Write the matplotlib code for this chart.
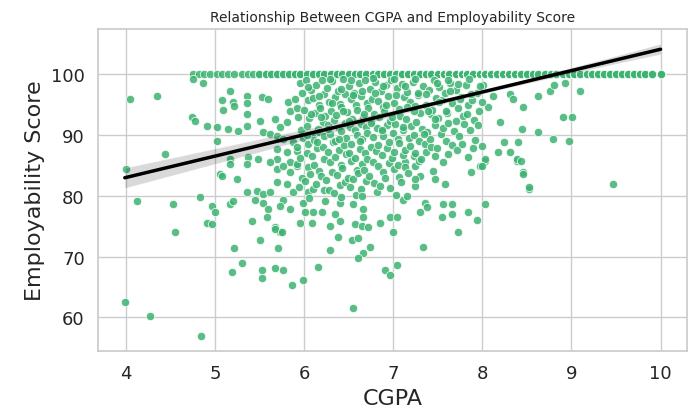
import matplotlib
matplotlib.use("Agg")
import matplotlib.pyplot as plt
import seaborn as sns
import numpy as np

# students capped at the maximum score of 100 (position, how many students overlap there)
top_cgpa = [4.75, 4.82, 4.88, 4.95, 5.02, 5.08, 5.15, 5.22, 5.3, 5.37, 5.43, 5.5, 5.57, 5.63,
            5.7, 5.76, 5.83, 5.9, 5.96, 6.03, 6.1, 6.17, 6.23, 6.3, 6.37, 6.43, 6.5, 6.57,
            6.63, 6.7, 6.77, 6.83, 6.9, 6.97, 7.03, 7.1, 7.17, 7.23, 7.3, 7.37, 7.43, 7.5,
            7.57, 7.63, 7.7, 7.77, 7.83, 7.9, 7.97, 8.03, 8.1, 8.17, 8.23, 8.3, 8.37, 8.43,
            8.5, 8.57, 8.63, 8.7, 8.77, 8.83, 8.9, 8.97, 9.03, 9.1, 9.17, 9.23, 9.3, 9.37,
            9.43, 9.5, 9.57, 9.63, 9.7, 9.77, 9.83, 9.9, 10.0]
top_count = [1, 1, 1, 1, 1, 1, 1, 1, 1, 1, 1, 2, 2, 2,
             2, 2, 2, 3, 3, 3, 3, 3, 3, 3, 3, 3, 6, 6,
             6, 6, 6, 6, 6, 6, 8, 8, 8, 8, 8, 8, 8, 28,
             28, 28, 28, 28, 28, 28, 28, 28, 28, 28, 28, 28, 28, 28,
             7, 7, 7, 7, 7, 7, 7, 7, 7, 7, 7, 7, 7, 7,
             7, 7, 7, 7, 7, 7, 7, 7, 7]

# scattered students (cgpa, score)
edge_points = [
    (4.0, 84.5), (4.05, 96), (4.35, 96.5), (4.13, 79.1), (4.44, 86.9), (4.53, 78.6), (4.55, 74.1),
    (3.99, 62.5), (4.27, 60.2), (4.84, 56.9), (4.74, 93.0), (4.78, 92.4), (4.75, 99.3), (4.87, 98.5),
    (4.91, 91.5), (5.03, 91.4), (5.15, 91.0), (5.26, 90.7), (5.36, 91.5), (5.02, 89.1),
    (5.08, 95.7), (5.09, 94.2), (5.17, 97.2), (5.2, 95.5), (5.22, 94.8), (5.36, 96.5), (5.36, 95.2),
    (5.36, 93.4), (5.53, 96.3), (5.6, 96.0), (5.51, 92.4), (5.67, 92.7), (5.73, 91.4), (5.81, 92.2),
    (5.84, 93.9), (5.82, 95.5), (5.9, 96.0), (5.92, 94.4), (5.54, 90.5), (5.62, 90.2), (5.7, 89.9),
    (5.76, 89.4), (5.88, 88.9), (5.7, 87.7), (5.81, 87.2), (5.92, 87.4), (5.7, 86.1), (5.84, 85.6),
    (5.92, 84.9), (5.17, 86.1), (5.37, 86.4), (5.48, 86.1), (5.17, 85.2), (5.36, 85.2), (5.06, 83.6),
    (5.25, 82.8), (5.08, 83.3), (4.83, 79.8), (4.97, 78.3), (5.0, 77.4), (5.17, 78.6), (5.2, 79.1),
    (4.91, 75.6), (4.97, 75.3), (5.36, 80.6), (5.47, 80.8), (5.54, 80.3), (5.62, 80.6), (5.45, 79.4),
    (5.54, 78.9), (5.6, 77.8), (5.58, 76.5), (5.42, 75.8), (5.67, 74.8), (5.73, 74.1), (5.51, 72.8),
    (5.22, 71.5), (5.71, 71.5), (5.62, 85.6), (5.7, 84.4), (5.76, 84.9), (5.84, 83.9), (5.92, 85.2),
    (5.7, 82.3), (5.81, 81.9), (5.88, 80.6), (5.76, 79.4), (5.73, 78.3), (5.84, 77.8),
    (5.31, 69.0), (5.19, 67.5), (5.53, 67.8), (5.53, 66.5), (5.67, 68.2), (5.76, 67.8), (5.87, 65.3),
    (5.67, 74.5), (5.75, 74.0), (5.99, 78.9), (6.01, 77.4), (6.1, 77.3), (6.2, 77.4), (5.96, 75.6),
    (6.09, 75.6), (6.35, 77.0), (6.4, 75.8), (6.29, 75.0), (6.38, 73.3), (6.55, 78.6), (6.4, 78.9),
    (6.66, 77.8), (6.66, 76.5), (6.57, 75.3), (6.65, 75.0), (6.72, 74.8), (6.54, 72.8), (6.61, 73.1),
    (6.74, 71.6), (6.66, 70.6), (6.61, 69.8), (6.85, 75.6), (6.97, 76.5), (7.04, 76.5), (7.0, 74.1),
    (6.91, 67.8), (6.97, 67.0), (7.04, 68.7), (6.29, 71.1), (6.16, 68.3), (5.99, 66.2), (6.55, 61.5),
    (7.11, 79.4), (7.16, 79.9), (7.3, 77.3), (7.36, 78.9), (7.38, 78.1), (7.33, 71.6), (7.55, 76.6),
    (7.56, 78.6), (7.66, 78.6), (7.66, 77.0), (7.73, 74.1), (7.84, 77.4), (7.94, 76.1), (8.03, 78.6),
    (7.13, 85.6), (7.24, 84.9), (7.3, 83.3), (7.45, 84.1), (7.56, 85.6), (7.47, 82.8), (7.58, 81.9),
    (7.25, 81.6), (7.87, 83.9), (7.98, 84.9), (8.03, 85.7), (8.39, 85.7), (8.46, 83.9), (8.52, 81.1),
    (8.01, 98.2), (8.06, 94.7), (8.12, 96.4), (8.31, 96.8), (8.34, 96.0), (8.2, 92.2), (8.46, 94.7),
    (8.62, 96.5), (8.76, 97.2), (8.8, 98.2), (8.93, 98.5), (9.1, 97.2), (8.9, 93.0), (9.01, 92.9),
    (8.45, 91.0), (8.62, 90.5), (8.79, 89.4), (8.97, 89.1), (8.24, 88.9), (8.4, 88.9), (8.0, 88.2),
    (8.18, 87.2), (8.31, 87.2), (8.03, 86.1), (8.0, 84.9), (8.39, 86.1), (8.43, 85.7), (8.46, 83.6),
    (8.52, 81.4), (9.47, 81.9),
]

# dense core: cgpa column -> scores
core_columns = {
    5.95: [98.6, 97.0, 93.0, 90.8, 88.0, 86.2, 83.0, 81.5],
    6.02: [99.0, 95.8, 94.2, 91.5, 89.6, 87.0, 84.8, 82.4, 80.7],
    6.08: [97.4, 96.1, 92.8, 90.1, 88.5, 86.6, 85.0, 83.6, 81.2, 79.6],
    6.14: [98.2, 95.0, 93.6, 91.0, 89.2, 87.8, 84.1, 82.0],
    6.2: [99.1, 96.7, 94.5, 92.2, 90.5, 88.1, 86.0, 83.2, 80.9],
    6.26: [97.8, 95.5, 93.1, 91.7, 89.8, 87.3, 85.5, 82.6, 81.0, 79.2],
    6.32: [98.9, 96.2, 94.0, 92.5, 90.2, 88.9, 86.4, 84.0, 80.4],
    6.38: [97.2, 95.1, 93.3, 91.2, 89.0, 87.5, 85.1, 83.4, 81.8],
    6.44: [99.2, 96.8, 94.6, 92.0, 90.7, 88.3, 86.9, 84.6, 82.2, 79.8],
    6.5: [98.0, 95.9, 93.8, 91.4, 89.5, 87.0, 85.7, 83.0, 81.4],
    6.56: [97.0, 94.9, 92.7, 90.9, 88.6, 86.2, 84.3, 82.7, 80.2],
    6.62: [98.5, 96.4, 94.1, 91.9, 90.0, 87.7, 85.3, 83.8, 81.1],
    6.68: [99.0, 95.3, 93.0, 91.3, 89.3, 87.1, 86.0, 84.2, 82.5, 80.0],
    6.74: [97.6, 96.0, 94.4, 92.3, 90.4, 88.0, 85.6, 83.3],
    6.8: [98.8, 95.6, 93.5, 91.1, 89.7, 87.4, 84.9, 82.1, 80.6],
    6.86: [97.3, 94.7, 92.9, 90.6, 88.4, 86.7, 83.9, 81.6],
    6.92: [98.3, 96.5, 93.9, 91.6, 89.9, 87.9, 85.4, 82.9],
    6.98: [99.0, 95.2, 92.4, 90.3, 88.8, 86.3, 84.4, 81.3],
    7.04: [97.7, 94.3, 91.8, 89.4, 87.2, 85.0, 83.1, 80.1],
    7.1: [98.4, 96.3, 93.2, 90.8, 88.7, 86.8, 84.7, 82.3],
    7.16: [97.1, 95.4, 92.6, 89.6, 87.6, 83.7],
    7.22: [98.7, 94.8, 91.5, 90.0, 88.2, 86.5, 82.8],
    7.28: [96.6, 93.7, 92.1, 89.1, 87.0, 85.8],
    7.34: [98.1, 95.0, 91.0, 88.5, 86.1],
    7.4: [97.5, 93.4, 90.5, 89.4, 87.3],
    7.46: [99.1, 96.1, 94.2, 91.7, 88.0, 86.6],
    7.52: [97.9, 95.7, 92.8, 90.2, 87.8],
    7.58: [96.9, 93.6, 91.2, 89.0],
    7.64: [98.6, 95.3, 92.0, 88.4, 86.9],
    7.7: [97.4, 94.5, 90.7, 87.5],
    7.76: [96.2, 93.1, 89.8, 88.6],
    7.82: [98.3, 94.9, 91.9, 86.4],
    7.88: [95.8, 92.5, 90.9, 87.9],
    7.94: [97.0, 93.9, 89.2],
}

# extra students in the upper part of the core, between the columns above
core_upper = {
    6.05: [97.9, 93.4, 90.0],
    6.17: [96.4, 92.9, 88.8],
    6.29: [99.3, 95.2, 91.0],
    6.41: [97.6, 93.9, 89.4],
    6.53: [99.0, 96.6, 92.4],
    6.65: [97.3, 93.5, 89.0],
    6.77: [99.4, 96.9, 92.0],
    6.89: [98.0, 95.0, 90.9],
    7.01: [99.2, 96.6, 93.0],
    7.13: [98.0, 94.6, 91.4],
    7.25: [99.3, 97.0, 93.9],
    7.37: [96.8, 94.0, 90.2],
    7.49: [98.5, 95.4, 92.6],
    7.61: [99.0, 97.3, 94.0],
    7.73: [98.4, 95.9, 92.4],
    7.85: [99.2, 96.7, 93.4],
    7.97: [98.1, 95.5, 91.6],
}

cgpa = []
score = []
for x, n in zip(top_cgpa, top_count):
    cgpa += [x] * n
    score += [100.0] * n
cgpa += [p[0] for p in edge_points]
score += [p[1] for p in edge_points]
# small column offsets keep the core from lining up in vertical stripes
offsets = [0.0, 0.025, -0.02, 0.015, -0.03, 0.01, 0.03, -0.01, 0.02, -0.025]
for cols in (core_columns, core_upper):
    for x, ys in cols.items():
        for i, y in enumerate(ys):
            cgpa.append(x + offsets[i % len(offsets)])
            score.append(y)

sns.set_theme(style="whitegrid")
plt.rcParams['font.family'] = ['DejaVu Sans']

fig = plt.figure(figsize=(6.95, 4.14), dpi=100)
ax = fig.add_axes([0.141, 0.15, 0.848, 0.777])

sns.regplot(x=np.array(cgpa), y=np.array(score), ax=ax,
            scatter_kws=dict(color="mediumseagreen", s=36, alpha=0.85,
                             edgecolor="white", linewidths=0.6),
            line_kws=dict(color="black", lw=2.5))

ax.set_title("Relationship Between CGPA and Employability Score", fontsize=10)
ax.set_xlabel("CGPA", fontsize=16)
ax.set_ylabel("Employability Score", fontsize=16)
ax.tick_params(labelsize=13)
ax.set_yticks([60, 70, 80, 90, 100])

fig.savefig("out.png", dpi=100)
